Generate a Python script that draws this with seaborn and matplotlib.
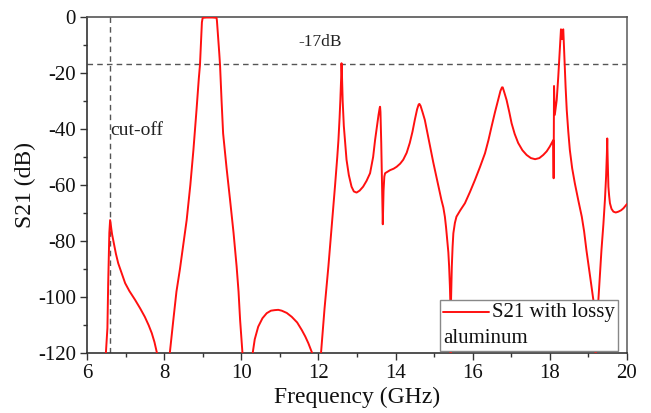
import matplotlib
matplotlib.use("Agg")
import matplotlib.pyplot as plt
import seaborn as sns
import pandas as pd
from matplotlib.lines import Line2D
from matplotlib.offsetbox import (AnchoredOffsetbox, DrawingArea, TextArea,
                                  HPacker, VPacker)

# Transmission response of the waveguide filter (lossy aluminium walls)
freq_ghz = [
    6.45, 6.49, 6.53, 6.55, 6.58, 6.60, 6.62, 6.65, 6.70, 6.75, 6.81, 6.90,
    6.99, 7.10, 7.25, 7.38, 7.50, 7.60, 7.68, 7.75, 7.81, 7.88, 8.00, 8.10,
    8.15, 8.20, 8.24, 8.32, 8.41, 8.50, 8.585, 8.68, 8.76, 8.84, 8.90, 8.93,
    8.96, 8.98, 9.00, 9.10, 9.25, 9.36, 9.37, 9.40, 9.43, 9.45, 9.49, 9.53,
    9.62, 9.71, 9.80, 9.88, 9.93, 9.97, 10.00, 10.03, 10.10, 10.22,
    10.30, 10.35, 10.44, 10.55, 10.66, 10.77, 10.87, 10.96, 11.05, 11.18, 11.31, 11.45,
    11.57, 11.66, 11.74, 11.83, 11.90, 12.00,
    12.07, 12.16, 12.26, 12.35, 12.43, 12.49, 12.52, 12.55, 12.57, 12.59, 12.60, 12.61,
    12.63, 12.66, 12.70, 12.73, 12.79, 12.86, 12.92, 12.99, 13.07, 13.16, 13.25, 13.34,
    13.42, 13.47, 13.52, 13.56, 13.59, 13.60, 13.61, 13.63, 13.65, 13.67, 13.69, 13.71,
    13.73, 13.80, 13.86, 13.95, 14.03, 14.12, 14.20, 14.29, 14.37, 14.44, 14.50, 14.56,
    14.60, 14.62, 14.65, 14.70, 14.76, 14.82, 14.89, 14.98, 15.07, 15.13, 15.19, 15.24,
    15.28, 15.31, 15.34, 15.37, 15.39, 15.41, 15.42, 15.43, 15.44, 15.45, 15.46, 15.48,
    15.50, 15.54, 15.58, 15.68, 15.80, 15.93, 16.06, 16.19, 16.32, 16.41, 16.49, 16.58,
    16.66, 16.72, 16.76, 16.78, 16.81, 16.88, 16.95, 17.01, 17.09, 17.18, 17.29, 17.40,
    17.51, 17.62, 17.73, 17.83, 17.92, 18.00, 18.05, 18.09,
    18.10, 18.11, 18.13, 18.18, 18.22, 18.26, 18.29, 18.31, 18.32, 18.33, 18.35, 18.39,
    18.41, 18.44, 18.48, 18.52, 18.58, 18.65, 18.74, 18.83, 18.89, 18.95, 19.01, 19.07,
    19.13, 19.19, 19.26, 19.30, 19.34, 19.39, 19.43, 19.46, 19.48, 19.49, 19.50, 19.52,
    19.54, 19.56, 19.60, 19.65, 19.71, 19.78, 19.85, 19.91, 20.00,
]
s21_db = [
    -135, -120, -111, -95, -77, -72.5, -74.5, -77.5, -81, -84.5, -87.9, -91.5,
    -95, -97.8, -101, -104, -107, -110, -112.8, -116, -119.6, -128, -140, -128,
    -119.6, -113, -108, -98, -90, -81, -72.5, -60, -47.5, -33.3, -22, -17.2,
    -8, -2, -0.4, -0.3, -0.3, -0.4, -1.5, -7, -13, -17.2, -30, -41.6,
    -54, -65.3, -77, -89, -98, -108, -114, -119.6, -132, -132,
    -119.6, -115, -110.5, -107.5, -105.7, -104.8, -104.6, -104.5, -104.8, -105.6, -107, -109,
    -111.7, -114, -116.4, -119.6, -130, -130,
    -119.6, -104, -89, -74, -60.6, -50, -44, -36, -29.7, -22, -16.6, -20,
    -30, -39, -46, -51, -56.5, -60.6, -62.3, -62.7, -62, -60.6, -58.5, -55.8,
    -50, -44, -39, -35, -32.5, -32.1, -34, -45, -60, -74, -62, -57,
    -55.8, -55.2, -54.7, -54.2, -53.5, -52.4, -51, -48.5, -45, -41, -36.8, -33,
    -31.3, -31.1, -31.8, -34, -36.8, -41, -46, -52, -57.6, -61.5, -65.3, -68,
    -71.3, -75, -79.6, -84, -89, -96, -101, -120, -101, -94, -89, -82,
    -77.2, -73.5, -71.3, -69, -66.5, -62.5, -58.2, -53.6, -48.7, -44, -39.2, -34,
    -29.7, -26.5, -25.2, -25.2, -26.5, -29.7, -34, -38, -41.8, -45, -47.6, -49.3,
    -50.4, -50.8, -50.4, -49.3, -48, -46.3, -45, -44,
    -57.6, -24.7, -35, -29.7, -21.4, -11.9, -4.5, -6.5, -8, -5, -4.5, -17.8,
    -25, -33.3, -41, -47.5, -54, -59.4, -65.5, -71.3, -76.5, -83.2, -89, -95,
    -101, -121, -101, -92, -83.2, -74, -65.3, -57, -49, -43.4, -50, -60.6,
    -64, -66.5, -68.5, -69.5, -69.8, -69.5, -69, -68.3, -66.8,
]

cutoff_ghz = 6.6
threshold_db = -17

x_ticks = [6, 8, 10, 12, 14, 16, 18, 20]
y_ticks = [0, -20, -40, -60, -80, -100, -120]

sns.set_theme(style="ticks")
plt.rcParams["font.family"] = ["Liberation Serif", "DejaVu Serif"]
plt.rcParams["axes.unicode_minus"] = False

fig, ax = plt.subplots(figsize=(6.51, 4.13), dpi=100)
fig.subplots_adjust(left=0.1336, right=0.963, top=0.9596, bottom=0.1445)

df = pd.DataFrame({"Frequency": freq_ghz, "S21": s21_db})
sns.lineplot(data=df, x="Frequency", y="S21", sort=False, estimator=None,
             color="#ff1010", linewidth=1.4, legend=False, ax=ax, zorder=3)

# Reference lines: -17 dB level and waveguide cut-off
ax.axhline(threshold_db, color="#555555", linewidth=1.0, dashes=(4, 3), zorder=2)
ax.axvline(cutoff_ghz, color="#555555", linewidth=1.0, dashes=(4, 3), zorder=2)
ax.text(12.04, -9, f"{threshold_db}dB", ha="center", va="center",
        fontsize=12.5, color="#222222")
ax.text(cutoff_ghz, -40.4, "cut-off", ha="left", va="center",
        fontsize=14, color="#222222")

ax.set_xlim(6, 20)
ax.set_ylim(-120, 0)
ax.set_xticks(x_ticks)
ax.set_yticks(y_ticks)
ax.set_xticks([7, 9, 11, 13, 15, 17, 19], minor=True)
ax.set_yticks([-10, -30, -50, -70, -90, -110], minor=True)
ax.tick_params(axis="both", which="major", direction="out", length=5,
               width=1.0, labelsize=15, pad=3, color="#333333",
               labelcolor="#111111")
ax.tick_params(axis="both", which="minor", direction="out", length=3,
               width=1.0, color="#333333")

for side in ["left", "bottom", "top", "right"]:
    ax.spines[side].set_visible(True)
    ax.spines[side].set_linewidth(1.2)
ax.spines["left"].set_color("#333333")
ax.spines["bottom"].set_color("#333333")
ax.spines["top"].set_color("#555555")
ax.spines["right"].set_color("#666666")

ax.set_xlabel("Frequency (GHz)", fontsize=17, color="#111111")
ax.set_ylabel("S21 (dB)", fontsize=17, color="#111111")
ax.xaxis.set_label_coords(0.5, -0.10)
ax.yaxis.set_label_coords(-0.095, 0.5)

# Legend with the label wrapping under the line sample
sample = DrawingArea(33, 10, 0, 0)
sample.add_artist(Line2D([0, 33], [5, 5], color="#ff1010", linewidth=1.4))
first_row = HPacker(children=[sample,
                              TextArea("S21 with lossy",
                                       textprops=dict(fontsize=15, color="#111111"))],
                    align="center", pad=0, sep=2)
second_row = TextArea("aluminum", textprops=dict(fontsize=15, color="#111111"))
legend_box = VPacker(children=[first_row, second_row], align="left", pad=0, sep=5)
anchored = AnchoredOffsetbox(loc="lower right", child=legend_box, pad=0.2,
                             borderpad=0, frameon=True,
                             bbox_to_anchor=(0.983, 0.007),
                             bbox_transform=ax.transAxes)
anchored.patch.set_edgecolor("#888888")
anchored.patch.set_linewidth(1.0)
anchored.patch.set_facecolor("white")
anchored.set_zorder(5)
ax.add_artist(anchored)

fig.savefig("out.png", dpi=100)
